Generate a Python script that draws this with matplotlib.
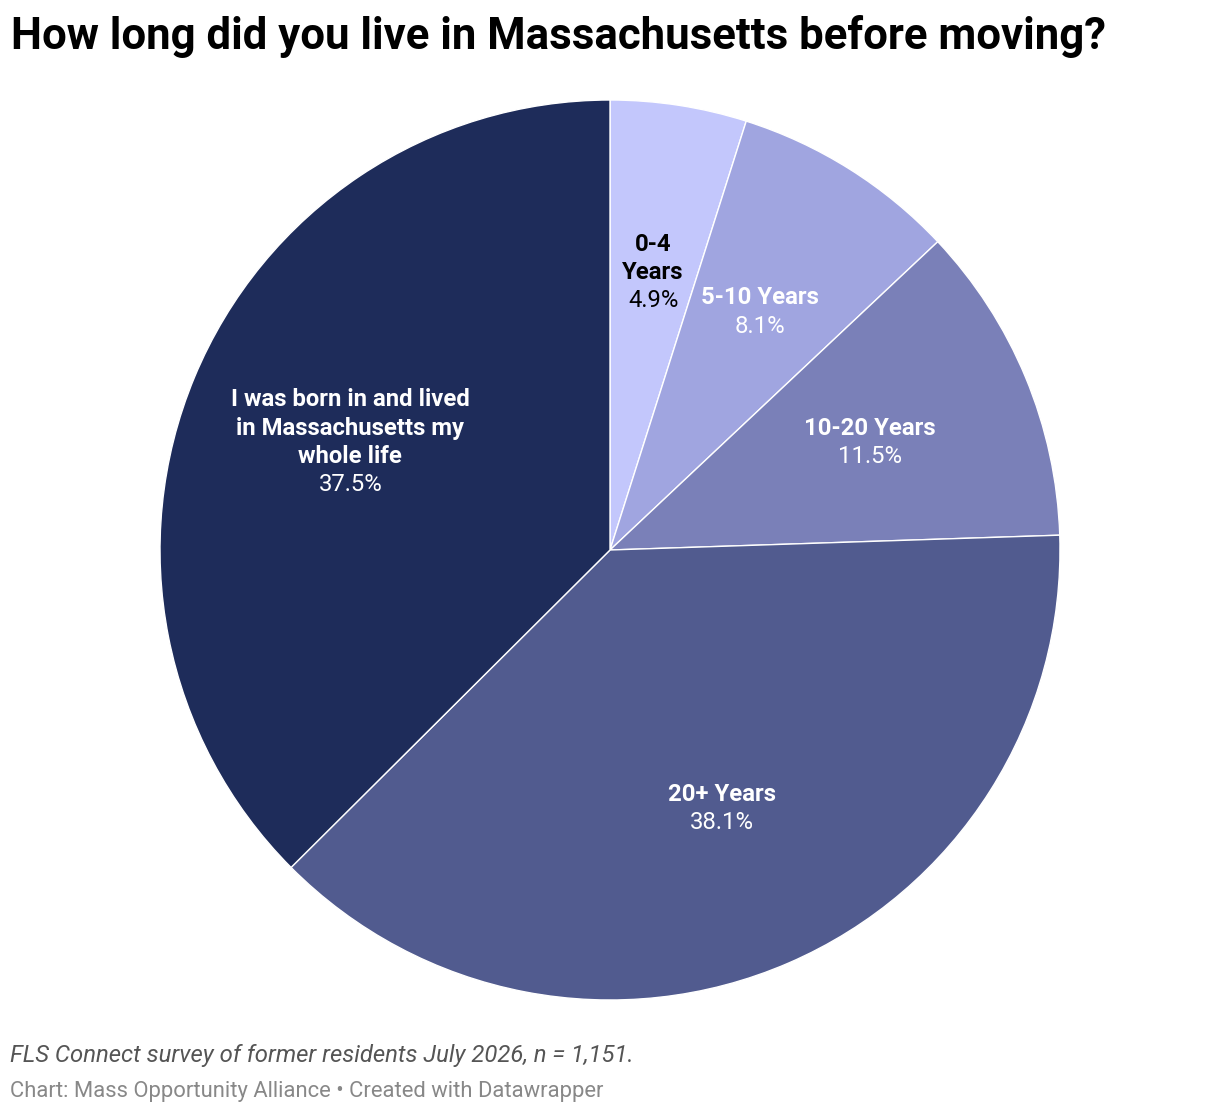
import matplotlib.pyplot as plt
import numpy as np

# Data
labels = ['0-4\nYears', '5-10 Years', '10-20 Years', '20+ Years',
          'I was born in and lived\nin Massachusetts my\nwhole life']
shares = [4.9, 8.1, 11.5, 38.1, 37.5]
colors = ['#c3c7fc', '#a0a5e0', '#7a80b8', '#515b8f', '#1e2c5a']
text_colors = ['#000000', '#ffffff', '#ffffff', '#ffffff', '#ffffff']

plt.rcParams['font.family'] = ['Roboto', 'DejaVu Sans']

fig = plt.figure(figsize=(12.2, 11.14), dpi=100)
ax = fig.add_axes([160 / 1220, 114 / 1114, 900 / 1220, 900 / 1114])

ax.pie(shares, colors=colors, startangle=90, counterclock=False,
       wedgeprops=dict(edgecolor='white', linewidth=1))
ax.set_xlim(-1, 1)
ax.set_ylim(-1, 1)
ax.set_aspect('equal')
ax.axis('off')

# labels sit at ~62% of the radius at each slice's mid angle
fs = 17.2
line_h = 20.2  # points
total = sum(shares)
start = 0
for lab, val, tc in zip(labels, shares, text_colors):
    mid = (start + val / 2) / total * 2 * np.pi
    start += val
    r = 0.625
    x, y = r * np.sin(mid), r * np.cos(mid)
    lines = lab.split('\n')
    n = len(lines) + 1
    for i, ln in enumerate(lines):
        off = ((n - 1) / 2 - i) * line_h
        ax.annotate(ln, (x, y), xytext=(0, off), textcoords='offset points',
                    ha='center', va='center', fontsize=fs, fontweight='bold', color=tc)
    off = ((n - 1) / 2 - len(lines)) * line_h
    ax.annotate(f'{val:.1f}%', (x, y), xytext=(0, off), textcoords='offset points',
                ha='center', va='center', fontsize=fs, color=tc)

fig.text(11 / 1220, 1 - 49 / 1114, 'How long did you live in Massachusetts before moving?',
         fontsize=31.5, fontweight='bold', color='#000000', ha='left', va='baseline')
fig.text(10 / 1220, 1 - 1062 / 1114, 'FLS Connect survey of former residents July 2026, n = 1,151.',
         fontsize=17.2, fontstyle='italic', color='#555555', ha='left', va='baseline')
fig.text(10 / 1220, 1 - 1097 / 1114, 'Chart: Mass Opportunity Alliance \u2022 Created with Datawrapper',
         fontsize=15.8, color='#888888', ha='left', va='baseline')

fig.savefig('out.png', dpi=100, facecolor='white')
